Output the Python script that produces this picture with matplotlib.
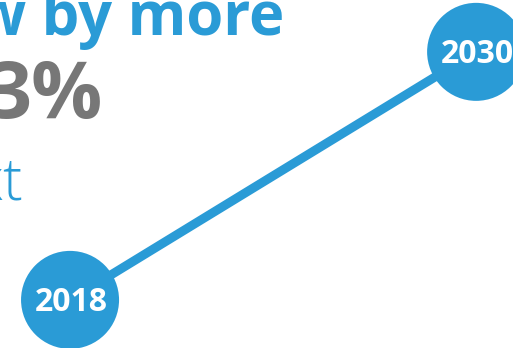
import matplotlib.pyplot as plt

# Data
years = [2018, 2030]
index_values = [100, 133]
year_labels = ['2018', '2030']

blue = '#2a9bd6'
grey = '#777777'

fig = plt.figure(figsize=(5.13, 3.48), dpi=100)
ax = fig.add_axes([0, 0, 1, 1])
ax.set_xlim(2015.93, 2031.09)
ax.set_ylim(93.6, 139.9)
ax.axis('off')

# connecting line and the two year markers
ax.plot(years, index_values, color=blue, linewidth=6.5, solid_capstyle='butt', zorder=1)
ax.scatter(years, index_values, s=4980, color=blue, edgecolors='none', zorder=2)
for x, y, lab in zip(years, index_values, year_labels):
    ax.annotate(lab, (x, y), xytext=(1, -2), textcoords='offset points',
                color='white', fontsize=23, fontweight='bold',
                family='Open Sans', ha='center', va='center', zorder=3)

# headline text (cropped at left edge in the original)
W, H = 513, 348
fig.text(284 / W, 1 - 35 / H, 'w by more', color=blue, fontsize=43,
         fontweight='bold', family='Open Sans', ha='right', va='baseline')
fig.text(103 / W, 1 - 118 / H, '3%', color=grey, fontsize=57,
         fontweight='bold', family='Open Sans', ha='right', va='baseline')
fig.text(23 / W, 1 - 200 / H, 'xt', color=blue, fontsize=42,
         fontweight='light', family='Open Sans', ha='right', va='baseline')

fig.savefig('out.png', dpi=100)
